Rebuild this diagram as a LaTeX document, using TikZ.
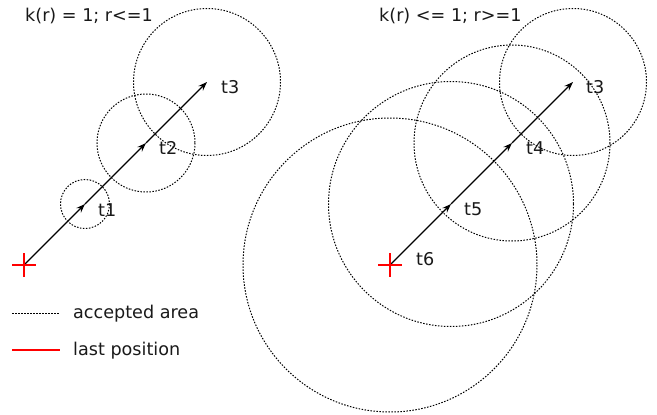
\documentclass[tikz,border=0pt]{standalone}
\usepackage{fontspec}
\setmainfont{DejaVu Sans}
\usetikzlibrary{arrows.meta}
\begin{document}
\begin{tikzpicture}[x=1pt,y=-1pt,
  area/.style={line width=1pt, dash pattern=on 1.5pt off 1.5pt},
  mv/.style={line width=1.1pt, -{Stealth[length=9pt,width=6.5pt]}},
  crossline/.style={red, line width=2pt},
  lbl/.style={font=\fontsize{17.6}{20}\selectfont, inner sep=0pt, anchor=base west, text=black!90}]
\useasboundingbox (0,0) rectangle (657,415);
% left diagram
\coordinate (p0) at (24,265);
\coordinate (p1) at (85,204);
\coordinate (p2) at (146,143);
\coordinate (p3) at (207,82);
\draw[area] (p1) circle (24.5);
\draw[area] (p2) circle (49);
\draw[area] (p3) circle (73.5);
\draw[mv] (p0) -- (p1);
\draw[mv] (p1) -- (p2);
\draw[mv] (p2) -- (p3);
\draw[crossline] (p0) +(-12,0) -- +(12,0) (p0) +(0,-12) -- +(0,12);
\node[lbl] (l1) at (98,216) {t1};
\node[lbl] (l2) at (159,154) {t2};
\node[lbl] (l3) at (221,93) {t3};
\node[lbl] (title1) at (25,21) {k(r) = 1; r<=1};
% right diagram
\coordinate (q0) at (390,265);
\coordinate (q1) at (451,204);
\coordinate (q2) at (512,143);
\coordinate (q3) at (573,82);
\draw[area] (q0) circle (147);
\draw[area] (q1) circle (122.5);
\draw[area] (q2) circle (98);
\draw[area] (q3) circle (73.5);
\draw[mv] (q0) -- (q1);
\draw[mv] (q1) -- (q2);
\draw[mv] (q2) -- (q3);
\draw[crossline] (q0) +(-12,0) -- +(12,0) (q0) +(0,-12) -- +(0,12);
\node[lbl] (r6) at (416,265) {t6};
\node[lbl] (r5) at (464,215) {t5};
\node[lbl] (r4) at (526,154) {t4};
\node[lbl] (r3) at (586,93) {t3};
\node[lbl] (title2) at (379,21) {k(r) <= 1; r>=1};
% legend
\coordinate (a1) at (12,313);
\coordinate (a2) at (59,313);
\coordinate (b1) at (12,350);
\coordinate (b2) at (60,350);
\draw[area] (a1) -- (a2);
\draw[crossline] (b1) -- (b2);
\node[lbl] (la) at (73,318) {accepted area};
\node[lbl] (lb) at (73,355) {last position};
\end{tikzpicture}
\end{document}
